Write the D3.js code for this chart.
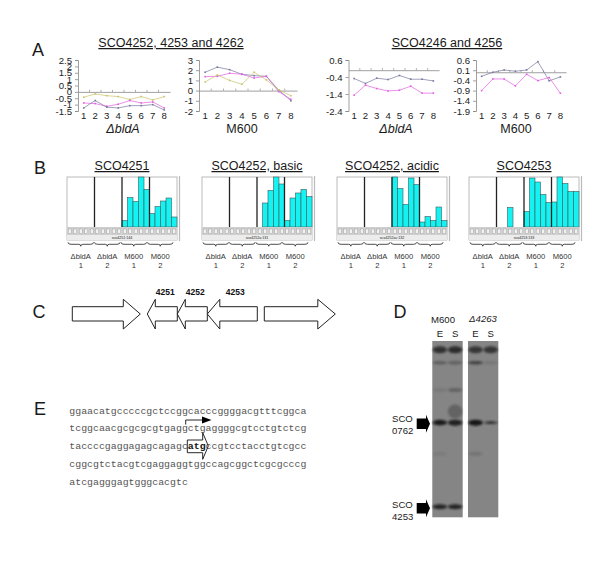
<!DOCTYPE html>
<meta charset="UTF-8">
<style>
  body { margin: 0; background: #fff; }
  text { font-family: "Liberation Sans", Arial, sans-serif; }
</style>
<script src="https://d3js.org/d3.v7.min.js"></script>
<svg id="fig" width="600" height="562"></svg>
<script>
// Panel A line charts
var timepoints = ["1","2","3","4","5","6","7","8"];

var a1Ticks = [2.5,2,1.5,1,0.5,0,-0.5,-1,-1.5];
var a1Gold = [-0.42,-0.16,-0.3,-0.37,-0.6,-0.37,-0.63,-0.37];
var a1Magenta = [-0.87,-0.92,-1.13,-0.97,-0.68,-0.87,-0.79,-1.26];
var a1Blue = [-1.26,-0.68,-1.2,-1.26,-1.08,-1.08,-1,-1.42];

var a2Ticks = [3,2,1,0,-1,-2];
var a2Blue = [1.8,2.3,2.05,1.6,1.47,1.4,0.07,-1];
var a2Magenta = [1.37,1.4,1.7,1.6,1.24,1.4,-0.1,-0.85];
var a2Gold = [0.85,1.53,1,0.62,1.8,1.05,0.07,-0.5];

var a3Ticks = [0.6,-0.4,-1.4,-2.4];
var a3Blue = [-0.49,-0.78,-0.47,-0.55,-0.31,-0.53,-0.53,-0.63];
var a3Magenta = [-1.47,-0.88,-1.08,-1.22,-1.18,-0.94,-1.35,-1.35];

var a4Ticks = [0.6,0.1,-0.4,-0.9,-1.4,-1.9];
var a4Blue = [-0.2,0,0.11,0.05,0.11,0.52,-0.42,-0.23];
var a4Magenta = [-0.9,-0.33,-0.33,-0.67,-0.1,-0.41,-0.26,-1.03];

// Panel B bars, 4 samples of 5 fractions each, fraction of the frame height
var sampleNames = ["\u0394bldA","\u0394bldA","M600","M600"];
var sampleNums = ["1","2","1","2"];
var b1Values = [0,0,0,0,0, 0,0,0,0,0, .13,.59,.51,1,.75, .27,.41,.52,.58,.2];
var b2Values = [0,0,0,0,0, 0,0,0,0,0, 0,.48,.73,1,.86, .13,.58,.68,.75,.61];
var b3Values = [0,0,0,0,0, 0,0,0,0,0, 1,.77,.45,.98,.85, .1,.21,.13,.4,.13];
var b4Values = [0,0,0,0,0, 0,0,.39,0,0, .31,.98,.9,.65,.49, .5,1,.87,.71,.71];

// Panel C genes, positions along the region
var geneStart = [0,75,105,135,192];
var geneEnd = [68,105,135,185,263];
var geneHead = [17,8,8,12.5,17.5];
var geneForward = [true,false,false,false,true];
var geneNames = ["","4251","4252","4253",""];

// Panel D gel, position is % down the lane
var laneNames = ["E","S","E","S"];
var bandLane = [0,1,2,3, 0,1,2,3, 0,1, 1, 0,1,2,3, 2,0, 0,1];
var bandPos = [5,5,5,5, 12.3,12.3,12.3,12.3, 27.8,27.8, 40, 46.3,46.3,46.3,46.3, 64,64, 94,94];
var bandDark = [.75,.8,.7,.7, .35,.3,.6,.12, .1,.3, .3, .95,.9,1,.8, .15,.08, .85,.85];
var bandThick = [3.5,3.5,3.5,3.5, 1.7,2,1.7,1.7, 2,2, 7, 2.8,3,3,1.3, 2,2, 2.5,2.5];

// Panel E sequence, line 3 carries the bold start codon
var seqLines = [
  ["ggaacatgcccccgctccggcacccggggacgtttcggca"],
  ["tcggcaacgcgcgcgtgaggctgaggggcgtcctgtctcg"],
  ["taccccgaggagagcagagc", "atg", "ccgtcctacctgtcgcc"],
  ["cggcgtctacgtcgaggaggtggccagcggctcgcgcccg"],
  ["atcgagggagtgggcacgtc"]
];

var svg = d3.select("#fig");

function label(x, y, str, size, anchor) {
  return svg.append("text").attr("x", x).attr("y", y).attr("text-anchor", anchor || "middle")
    .style("font-size", size + "px").attr("fill", "#1a1a1a").text(str);
}

function underlined(x, y, str) {
  label(x, y, str, 12.5).attr("text-decoration", "underline");
}

// panel letters
label(38, 56, "A", 18);
label(40, 174, "B", 18);
label(39, 318, "C", 18);
label(400, 318, "D", 18);
label(40, 415, "E", 18);

// ---- A ----
underlined(171, 47, "SCO4252, 4253 and 4262");
underlined(447, 47, "SCO4246 and 4256");

function lineChart(xRange, ticks, series) {
  var x = d3.scaleBand().domain(timepoints).range(xRange);
  var y = d3.scaleLinear().domain([ticks[ticks.length - 1], ticks[0]]).range([111, 60]);
  var g = svg.append("g");

  var yAxis = g.append("g").attr("transform", "translate(" + xRange[0] + ",0)")
    .call(d3.axisLeft(y).tickValues(ticks).tickSize(3).tickFormat(String));
  yAxis.selectAll("text").style("font-size", "9.6px").attr("fill", "#222").attr("x", -6);

  var xAxis = g.append("g").attr("transform", "translate(0," + y(0) + ")")
    .call(d3.axisBottom(x).tickSize(0));
  xAxis.selectAll("text").style("font-size", "9.6px").attr("fill", "#222")
    .attr("y", 120 - y(0) - 8);

  // ticks sit between the categories
  g.selectAll(".edge").data(timepoints.slice(1)).enter().append("line")
    .attr("x1", function(d) { return x(d); })
    .attr("x2", function(d) { return x(d); })
    .attr("y1", y(0) - 2).attr("y2", y(0))
    .attr("stroke", "#888").attr("stroke-width", 0.7);

  g.selectAll(".domain, .tick line").attr("stroke", "#888").attr("stroke-width", 0.8);

  var line = d3.line()
    .x(function(d, i) { return x(timepoints[i]) + x.bandwidth() / 2; })
    .y(function(d) { return y(d); });

  series.forEach(function(s) {
    g.append("path").attr("d", line(s.values)).attr("fill", "none")
      .attr("stroke", s.color).attr("stroke-width", 0.7);
    g.selectAll(".pt").data(s.values).enter().append("rect")
      .attr("x", function(d, i) { return x(timepoints[i]) + x.bandwidth() / 2 - 0.8; })
      .attr("y", function(d) { return y(d) - 0.8; })
      .attr("width", 1.6).attr("height", 1.6).attr("fill", s.color);
  });
}

var gold = "#c9c36a", magenta = "#e25fe2", blue = "#77779f";

lineChart([78, 170], a1Ticks, [
  {values: a1Gold, color: gold}, {values: a1Magenta, color: magenta}, {values: a1Blue, color: blue}]);
lineChart([199, 297], a2Ticks, [
  {values: a2Blue, color: blue}, {values: a2Magenta, color: magenta}, {values: a2Gold, color: gold}]);
lineChart([348.5, 439], a3Ticks, [
  {values: a3Blue, color: blue}, {values: a3Magenta, color: magenta}]);
lineChart([476, 566], a4Ticks, [
  {values: a4Blue, color: blue}, {values: a4Magenta, color: magenta}]);

label(123, 133, "\u0394bldA", 12.5).style("font-style", "italic");
label(242, 133, "M600", 12.5);
label(396, 133, "\u0394bldA", 12.5).style("font-style", "italic");
label(516, 133, "M600", 12.5);

// ---- B ----
function barPanel(x0, title, values, tag) {
  var cats = d3.range(20);
  var x = d3.scaleBand().domain(cats).range([x0, x0 + 110]);
  var y = d3.scaleLinear().domain([0, 1]).range([227, 177]);
  var g = svg.append("g");

  label(x0 + 55, 170, title, 12.5).attr("text-decoration", "underline");

  g.append("rect").attr("x", x0).attr("y", 177).attr("width", 110).attr("height", 63)
    .attr("fill", "#fff").attr("stroke", "#aaa").attr("stroke-width", 0.8);
  g.append("line").attr("x1", x0 + 112.5).attr("x2", x0 + 112.5).attr("y1", 176).attr("y2", 241)
    .attr("stroke", "#bbb").attr("stroke-width", 1.2);

  g.selectAll(".bar").data(values).enter().append("rect")
    .attr("x", function(d, i) { return x(i); })
    .attr("y", function(d) { return y(d); })
    .attr("width", x.bandwidth())
    .attr("height", function(d) { return y(0) - y(d); })
    .attr("fill", "#14f2f2").attr("stroke", "#3a5a5a").attr("stroke-width", 0.6)
    .attr("display", function(d) { return d > 0 ? null : "none"; });

  // sample dividers
  g.selectAll(".div").data([5, 10, 15]).enter().append("line")
    .attr("x1", function(d) { return x(d); }).attr("x2", function(d) { return x(d); })
    .attr("y1", 177).attr("y2", 227)
    .attr("stroke", "#222").attr("stroke-width", 1.3);

  // strip of lane cells under the plot
  g.append("rect").attr("x", x0).attr("y", 227).attr("width", 110).attr("height", 8).attr("fill", "#cfcfcf");
  g.selectAll(".cell").data(cats).enter().append("rect")
    .attr("x", function(d) { return x(d) + 1.2; }).attr("y", 229)
    .attr("width", x.bandwidth() - 2.4).attr("height", 4.5)
    .attr("fill", "#f2f2f2").attr("stroke", "#999").attr("stroke-width", 0.4);
  g.append("rect").attr("x", x0).attr("y", 235).attr("width", 110).attr("height", 5).attr("fill", "#ececec");
  label(x0 + 55, 239, tag, 3.6);

  // braces with sample names
  var groups = d3.scaleBand().domain([0, 1, 2, 3]).range([x0, x0 + 106]);
  sampleNames.forEach(function(name, i) {
    var a = groups(i) + 1, b = a + groups.bandwidth() - 1, m = (a + b) / 2;
    g.append("path")
      .attr("d", "M" + a + ",242.3 Q" + a + ",244.3 " + (a + 3) + ",244.3 L" + (m - 2) + ",244.3 Q" + m + ",244.3 " + m + ",246.2 Q" + m + ",244.3 " + (m + 2) + ",244.3 L" + (b - 3) + ",244.3 Q" + b + ",244.3 " + b + ",242.3")
      .attr("fill", "none").attr("stroke", "#222").attr("stroke-width", 0.8);
    label(m, 258.5, name, 7.6).attr("fill", "#333");
    label(m, 268, sampleNums[i], 7.6).attr("fill", "#333");
  });
}

barPanel(67, "SCO4251", b1Values, "sco4251:144");
barPanel(202, "SCO4252, basic", b2Values, "sco4252a:131");
barPanel(337, "SCO4252, acidic", b3Values, "sco4252ac:132");
barPanel(469, "SCO4253", b4Values, "sco4253:133");

// ---- C ----
var genePos = d3.scaleLinear().domain([0, 263]).range([72.3, 335.3]);
var geneLine = d3.line();
geneStart.forEach(function(s, i) {
  var a = genePos(s), b = genePos(geneEnd[i]), h = genePos(geneHead[i]) - genePos(0);
  var top = 306.7, bot = 321, headTop = 299.3, headBot = 329, mid = 314, pts;
  if (geneForward[i]) {
    pts = [[a,top],[b-h,top],[b-h,headTop],[b,mid],[b-h,headBot],[b-h,bot],[a,bot]];
  } else {
    pts = [[a,mid],[a+h,headTop],[a+h,top],[b,top],[b,bot],[a+h,bot],[a+h,headBot]];
  }
  svg.append("path").attr("d", geneLine(pts) + "Z")
    .attr("fill", "#fff").attr("stroke", "#222").attr("stroke-width", 1);
  if (geneNames[i]) {
    label((a + b) / 2 + 3, 294.5, geneNames[i], 8.5).style("font-weight", "bold").attr("fill", "#111");
  }
});

// ---- D ----
var gel = svg.append("g");
var defs = svg.append("defs");
defs.append("filter").attr("id", "soft").attr("x", "-30%").attr("y", "-100%").attr("width", "160%").attr("height", "300%")
  .append("feGaussianBlur").attr("stdDeviation", 0.9);

var lanes = d3.scaleBand().domain([0, 1]).range([432.3, 462.7]);
var lanes2 = d3.scaleBand().domain([2, 3]).range([468, 498.3]);
function laneX(l) {
  return l < 2 ? lanes(l) + lanes.bandwidth() / 2 : lanes2(l) + lanes2.bandwidth() / 2;
}
var gelY = d3.scaleLinear().domain([0, 100]).range([341, 517.3]);

[[432.3, 30.4], [468, 30.3]].forEach(function(p) {
  gel.append("rect").attr("x", p[0]).attr("y", gelY(0)).attr("width", p[1])
    .attr("height", gelY(100) - gelY(0)).attr("fill", "#858585");
});
var bandG = gel.append("g");
bandLane.forEach(function(l, i) {
  bandG.append("ellipse")
    .attr("cx", laneX(l)).attr("cy", gelY(bandPos[i]))
    .attr("rx", l == 3 && bandPos[i] > 40 ? 6.5 : 7.2).attr("ry", bandThick[i])
    .attr("fill", "#141414").attr("opacity", bandDark[i])
    .attr("filter", "url(#soft)");
});

label(443, 323, "M600", 9.6);
label(483, 322, "\u03944263", 9.6).style("font-style", "italic");
laneNames.forEach(function(n, i) {
  label(laneX(i), 337, n, 9.6);
});

function gelMarker(name1, name2, y, c) {
  label(392, y, name1, 9.6, "start");
  label(392, y + 12, name2, 9.6, "start");
  var pts = [[416.7,c-5.3],[426,c-5.3],[426,c-9],[430,c],[426,c+9],[426,c+5.3],[416.7,c+5.3]];
  svg.append("path").attr("d", geneLine(pts) + "Z").attr("fill", "#000");
}
gelMarker("SCO", "0762", 421.7, 423.7);
gelMarker("SCO", "4253", 507.7, 508.3);

// ---- E ----
var seqX = 69.3;
var seqY = d3.scaleLinear().domain([0, 4]).range([413.5, 484.5]);

// promoter arrow above line 2
svg.append("path").attr("d", "M185.7,424.5 L185.7,420 L203,420").attr("fill", "none")
  .attr("stroke", "#111").attr("stroke-width", 0.9);
svg.append("path").attr("d", geneLine([[202,416.5],[211.5,420],[202,423.5]]) + "Z").attr("fill", "#000");

seqLines.forEach(function(parts, i) {
  var t = svg.append("text").attr("x", seqX).attr("y", seqY(i))
    .style("font-family", "'Liberation Mono', monospace").style("font-size", "9.88px")
    .attr("fill", "#555");
  parts.forEach(function(p, j) {
    var span = t.append("tspan").text(p);
    if (j == 1) span.style("font-weight", "bold").attr("fill", "#111");
  });
});

// open start-codon arrow
svg.append("path").attr("d", geneLine([[187.3,440],[202.7,440],[202.7,432.7],[208.3,446],[202.7,459.3],[202.7,452.7],[187.3,452.7]]) + "Z")
  .attr("fill", "none").attr("stroke", "#111").attr("stroke-width", 0.9);
</script>
